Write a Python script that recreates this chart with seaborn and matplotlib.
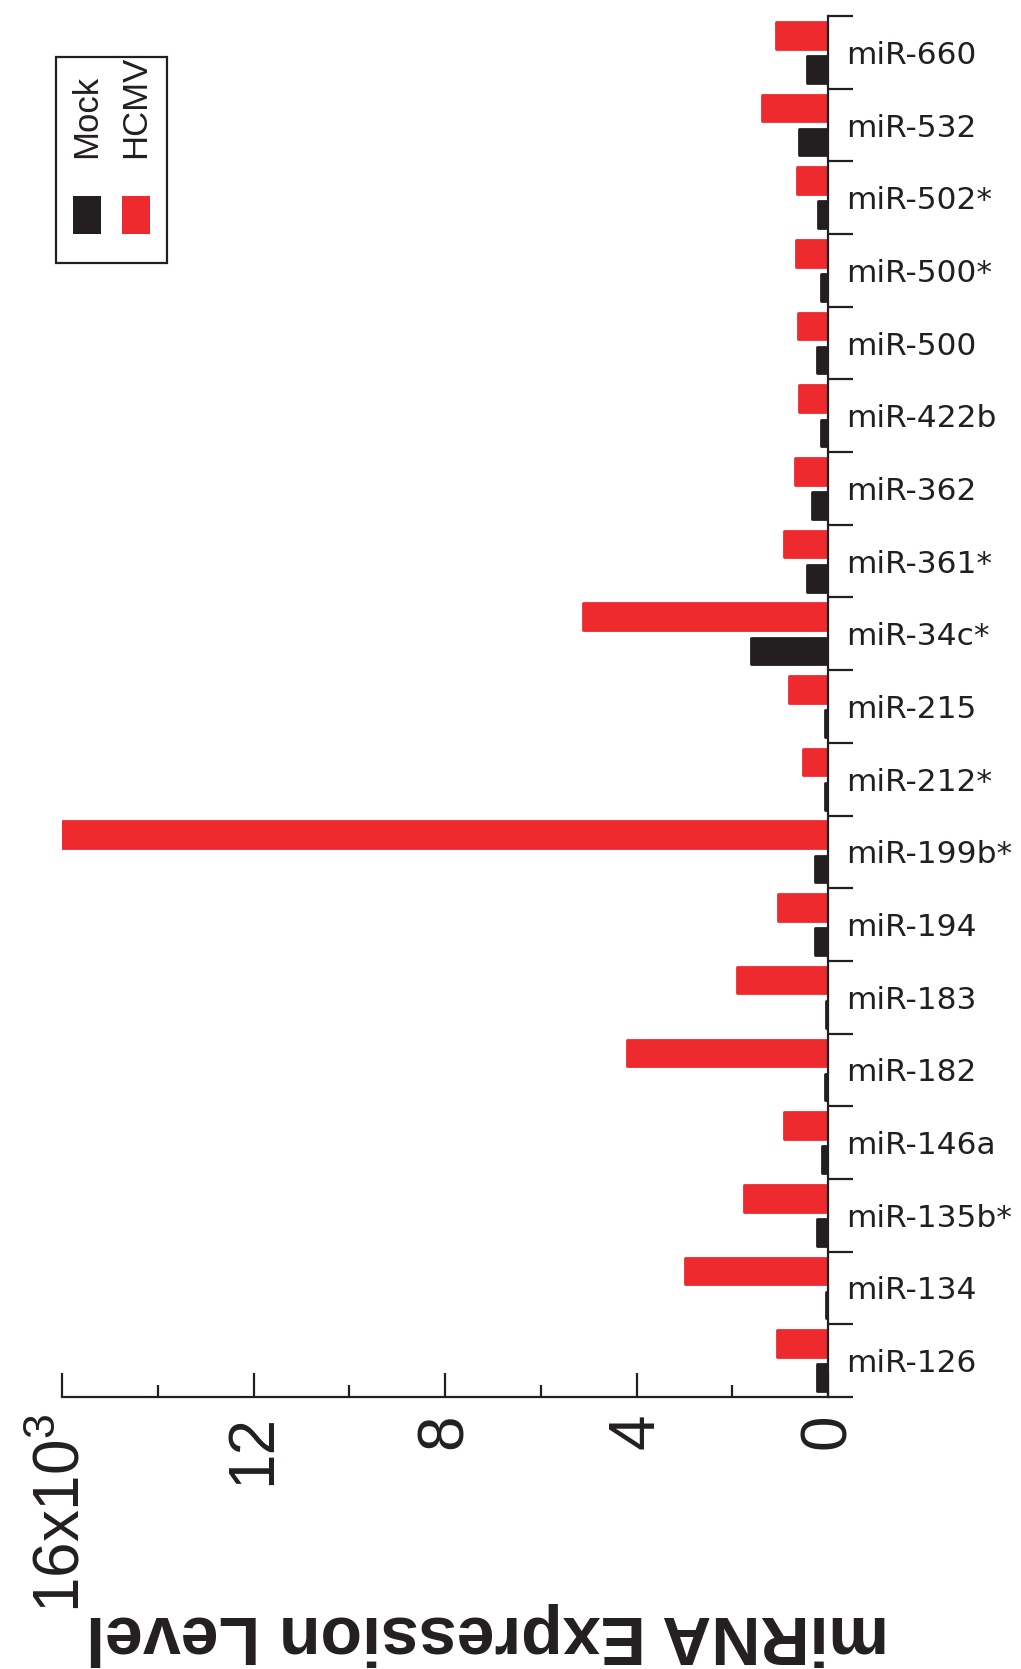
import numpy as np
import pandas as pd
import matplotlib
matplotlib.use("Agg")
import matplotlib.pyplot as plt
from matplotlib.patches import Rectangle
import seaborn as sns

# values in units of 10^3
mirnas = ['miR-660', 'miR-532', 'miR-502*', 'miR-500*', 'miR-500', 'miR-422b',
          'miR-362', 'miR-361*', 'miR-34c*', 'miR-215', 'miR-212*', 'miR-199b*',
          'miR-194', 'miR-183', 'miR-182', 'miR-146a', 'miR-135b*', 'miR-134',
          'miR-126']
hcmv = [1.09, 1.38, 0.64, 0.67, 0.62, 0.60, 0.69, 0.91, 5.11, 0.82, 0.53, 16.0,
        1.04, 1.91, 4.20, 0.91, 1.76, 2.98, 1.07]
mock = [0.44, 0.60, 0.20, 0.15, 0.22, 0.15, 0.33, 0.44, 1.60, 0.07, 0.07, 0.27,
        0.27, 0.04, 0.07, 0.13, 0.24, 0.04, 0.24]
conditions = ['Mock', 'HCMV']
colors = {'Mock': '#231F20', 'HCMV': '#EE2A2E'}
major_ticks = [0, 4, 8, 12, 16]
major_labels = ['0', '4', '8', '12', r'16x10$^{3}$']
minor_ticks = [2, 6, 10, 14]

df = pd.DataFrame({
    'mirna': mirnas * 2,
    'level': hcmv + mock,
    'condition': ['HCMV'] * len(mirnas) + ['Mock'] * len(mirnas),
})

sns.set_theme(style='ticks')
plt.rcParams['font.family'] = ['DejaVu Sans']
plt.rcParams['mathtext.fontset'] = 'custom'
plt.rcParams['mathtext.rm'] = 'Liberation Sans'

W, H = 1021, 1669
fig = plt.figure(figsize=(W / 100, H / 100), dpi=100)
ax = fig.add_axes([62 / W, 1 - 1397 / H, 766 / W, (1397 - 16) / H])

sns.barplot(data=df, y='mirna', x='level', hue='condition',
            order=mirnas, hue_order=['HCMV', 'Mock'], palette=colors,
            orient='h', width=0.94, gap=0.22, legend=False, saturation=1,
            ax=ax)
# soft rounded edges like the original artwork
for p in ax.patches:
    p.set_edgecolor(p.get_facecolor())
    p.set_linewidth(2)
    p.set_joinstyle('round')

ax.set_xlim(16, 0)
ax.set_ylim(18.5, -0.5)

for s in ['left', 'top']:
    ax.spines[s].set_visible(False)
for s in ['right', 'bottom']:
    ax.spines[s].set_linewidth(1.6)
    ax.spines[s].set_color('#231F20')

# category axis on the right
ax.set_yticks(range(len(mirnas)), labels=mirnas)
ax.set_yticks(np.arange(-0.5, len(mirnas)), minor=True)
ax.tick_params(axis='y', which='both', left=False, right=True,
               labelleft=False, labelright=True)
ax.tick_params(axis='y', which='major', length=0, pad=13, labelsize=22.5,
               labelcolor='#231F20')
ax.tick_params(axis='y', which='minor', length=18, width=1.6, color='#231F20')
ax.set_ylabel('')

# value axis
ax.set_xticks(major_ticks, labels=major_labels)
ax.set_xticks(minor_ticks, minor=True)
ax.tick_params(axis='x', which='major', direction='in', length=17, width=1.6,
               color='#231F20', pad=12, labelsize=46, labelrotation=90,
               labelcolor='#231F20')
ax.tick_params(axis='x', which='minor', direction='in', length=9, width=1.6,
               color='#231F20')
for lab in ax.get_xticklabels():
    lab.set_fontfamily('Liberation Sans')
ax.set_xlabel('miRNA Expression Level', rotation=180, fontsize=49,
              fontweight='bold', fontfamily='Liberation Sans',
              ha='center', va='center', color='#231F20')
ax.xaxis.set_label_coords(0.555, -0.1715)

# legend box (drawn rotated like the rest of the figure)
fig.add_artist(Rectangle((56 / W, 1 - 263 / H), 111 / W, 206 / H,
                         transform=fig.transFigure, fill=False,
                         edgecolor='#231F20', linewidth=1.6))
patch_x = {'Mock': 73, 'HCMV': 122}
text_x = {'Mock': 87, 'HCMV': 136}
for c in conditions:
    fig.add_artist(Rectangle((patch_x[c] / W, 1 - 234 / H), 28 / W, 38 / H,
                             transform=fig.transFigure,
                             facecolor=colors[c], edgecolor='none'))
    fig.text(text_x[c] / W, 1 - 158 / H, c, rotation=90, ha='center',
             va='bottom', fontsize=25, fontfamily='Liberation Sans',
             color='#231F20')

fig.savefig('out.png', dpi=100)
